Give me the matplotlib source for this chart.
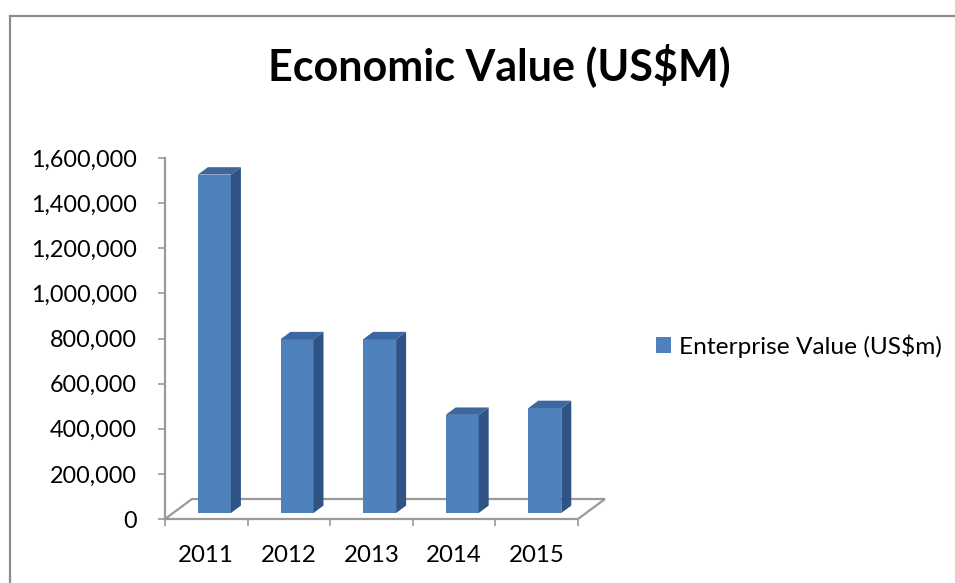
import matplotlib.pyplot as plt
from matplotlib.patches import Polygon, Rectangle, Patch
from matplotlib.lines import Line2D
from matplotlib.ticker import FuncFormatter
import numpy as np

# data
years = ['2011', '2012', '2013', '2014', '2015']
values = [1500000, 770000, 770000, 435000, 465000]
yticks = [0, 200000, 400000, 600000, 800000, 1000000, 1200000, 1400000, 1600000]
title = 'Economic Value (US$M)'
series_name = 'Enterprise Value (US$m)'

front_col = '#4F81BD'
side_col = '#2F5385'
top_col = '#3C679F'
grey = '#9A9A9A'

plt.rcParams['font.family'] = ['Lato', 'DejaVu Sans']

W, H = 955, 583
fig = plt.figure(figsize=(W / 100, H / 100), dpi=100)

# plot area in pixels (front face of the floor)
left, right, top, bottom = 165, 578, 158, 519
ax = fig.add_axes([left / W, 1 - bottom / H, (right - left) / W, (bottom - top) / H])
ax.set_xlim(-0.5, len(years) - 0.5)
ax.set_ylim(0, yticks[-1])

ux = len(years) / (right - left)      # data units per pixel, x
uy = yticks[-1] / (bottom - top)      # data units per pixel, y

# floor depth offsets
fdx, fdy = 27 * ux, 20 * uy
x0f, x1f = -0.5, len(years) - 0.5
floor = Polygon([(x0f, 0), (x1f, 0), (x1f + fdx, fdy), (x0f + fdx, fdy)],
                closed=True, facecolor='none', edgecolor=grey, lw=1.6, clip_on=False, zorder=1)
ax.add_patch(floor)

# 3d-looking bars
bw = 33 * ux
d_front, d_back = 0.3, 0.67
ddx, ddy = (d_back - d_front) * fdx, (d_back - d_front) * fdy
for i, v in enumerate(values):
    bx = i + d_front * fdx - bw / 2
    by = d_front * fdy
    ax.add_patch(Rectangle((bx, by), bw, v, facecolor=front_col, edgecolor='none',
                           clip_on=False, zorder=3))
    ax.add_patch(Polygon([(bx + bw, by), (bx + bw + ddx, by + ddy),
                          (bx + bw + ddx, by + ddy + v), (bx + bw, by + v)],
                         closed=True, facecolor=side_col, edgecolor='none', clip_on=False, zorder=3))
    ax.add_patch(Polygon([(bx, by + v), (bx + bw, by + v),
                          (bx + bw + ddx, by + v + ddy), (bx + ddx, by + v + ddy)],
                         closed=True, facecolor=top_col, edgecolor='none', clip_on=False, zorder=3))

# axes styling
for s in ['top', 'right']:
    ax.spines[s].set_visible(False)
ax.spines['left'].set_color(grey)
ax.spines['left'].set_linewidth(1.6)
ax.spines['bottom'].set_visible(False)
ax.patch.set_visible(False)

ax.set_yticks(yticks)
ax.yaxis.set_major_formatter(FuncFormatter(lambda v, p: f'{int(v):,}'))
ax.tick_params(axis='y', length=5, width=1.2, color=grey, pad=15, labelsize=16.8, labelcolor='black')

ax.set_xticks(np.arange(len(years) + 1) - 0.5)
ax.set_xticklabels([])
ax.set_xticks(np.arange(len(years)), minor=True)
ax.set_xticklabels(years, minor=True)
ax.tick_params(axis='x', which='major', length=5, width=1.2, color=grey)
ax.tick_params(axis='x', which='minor', length=0, pad=19, labelsize=17.3, labelcolor='black')

# title
fig.text(499 / W, 1 - 80 / H, title, ha='center', va='baseline', fontsize=31, fontweight='bold')

# legend
fig.legend(handles=[Patch(facecolor=front_col, label=series_name)], loc='center left',
           bbox_to_anchor=(656 / W, 1 - 346 / H), frameon=False, fontsize=17.6,
           handlelength=0.62, handleheight=0.62, handletextpad=0.32, borderpad=0, borderaxespad=0)

# chart border (only top and left visible)
fig.add_artist(Line2D([10 / W, 10 / W], [0, 1 - 16 / H], color='#8C8C8C', lw=1.6))
fig.add_artist(Line2D([10 / W, 1], [1 - 16 / H, 1 - 16 / H], color='#8C8C8C', lw=1.6))

fig.savefig('out.png', dpi=100)
